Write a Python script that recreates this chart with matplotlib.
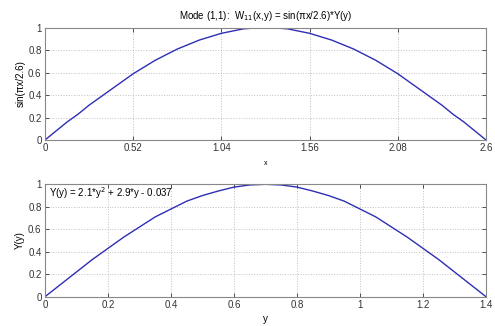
import matplotlib.pyplot as plt
from matplotlib.ticker import FuncFormatter

# values
x_vals = [0, 0.065, 0.13, 0.195, 0.26, 0.325, 0.39, 0.455, 0.52, 0.585, 0.65,
          0.715, 0.78, 0.845, 0.91, 0.975, 1.04, 1.105, 1.17, 1.235, 1.3,
          1.365, 1.43, 1.495, 1.56, 1.625, 1.69, 1.755, 1.82, 1.885, 1.95,
          2.015, 2.08, 2.145, 2.21, 2.275, 2.34, 2.405, 2.47, 2.535, 2.6]
w_vals = [0, 0.08, 0.16, 0.23, 0.31, 0.38, 0.45, 0.52, 0.59, 0.65, 0.71,
          0.76, 0.81, 0.85, 0.89, 0.92, 0.95, 0.97, 0.99, 0.997, 1.0,
          0.997, 0.99, 0.97, 0.95, 0.92, 0.89, 0.85, 0.81, 0.76, 0.71,
          0.65, 0.59, 0.52, 0.45, 0.38, 0.31, 0.23, 0.16, 0.08, 0]

y_vals = [0, 0.05, 0.1, 0.15, 0.2, 0.25, 0.3, 0.35, 0.4, 0.45, 0.5, 0.55, 0.6,
          0.65, 0.7, 0.75, 0.8, 0.85, 0.9, 0.95, 1.0, 1.05, 1.1, 1.15, 1.2,
          1.25, 1.3, 1.35, 1.4]
Y_vals = [0, 0.11, 0.22, 0.33, 0.43, 0.53, 0.62, 0.71, 0.78, 0.85, 0.90, 0.94,
          0.975, 0.994, 1.0, 0.994, 0.975, 0.94, 0.90, 0.85, 0.78, 0.71, 0.62,
          0.53, 0.43, 0.33, 0.22, 0.11, 0]

x_ticks = [0, 0.52, 1.04, 1.56, 2.08, 2.6]
y_ticks = [0, 0.2, 0.4, 0.6, 0.8, 1, 1.2, 1.4]
v_ticks = [0, 0.2, 0.4, 0.6, 0.8, 1]

plt.rcParams['font.family'] = ['Liberation Sans', 'DejaVu Sans']
plt.rcParams['font.size'] = 7

fig = plt.figure(figsize=(4.95, 3.26), dpi=100)
ax1 = fig.add_axes([0.0909, 0.5706, 0.8909, 0.3444])
ax2 = fig.add_axes([0.0909, 0.0899, 0.8909, 0.3448])

line_col = '#2e2eb4'
fmt = FuncFormatter(lambda v, p: ('%g' % round(v, 2)))

ax1.plot(x_vals, w_vals, color=line_col, lw=1.0)
ax1.set_xlim(0, 2.6)
ax1.set_ylim(0, 1)
ax1.set_xticks(x_ticks)
ax1.set_yticks(v_ticks)
ax1.set_title('Mode (1,1):  W$_{11}$(x,y) = sin(\u03c0x/2.6)*Y(y)', fontsize=7, pad=6)
ax1.set_ylabel('sin(\u03c0x/2.6)', fontsize=7, labelpad=2)
ax1.set_xlabel('x', fontsize=5, labelpad=5)

ax2.plot(y_vals, Y_vals, color=line_col, lw=1.0)
ax2.set_xlim(0, 1.4)
ax2.set_ylim(0, 1)
ax2.set_xticks(y_ticks)
ax2.set_yticks(v_ticks)
ax2.set_ylabel('Y(y)', fontsize=7, labelpad=2)
ax2.set_xlabel('y', fontsize=7, labelpad=3)
ax2.text(0.01, 0.92, 'Y(y) = 2.1*y$^2$ + 2.9*y - 0.037', transform=ax2.transAxes,
         fontsize=7, va='center', ha='left')

for ax in (ax1, ax2):
    ax.xaxis.set_major_formatter(fmt)
    ax.yaxis.set_major_formatter(fmt)
    ax.grid(True, color='#c0c0c0', linestyle=':', linewidth=0.7)
    ax.tick_params(direction='in', length=3, width=0.6, pad=2.5,
                   colors='#333333', labelsize=7, top=True, right=True)
    for s in ax.spines.values():
        s.set_color('#888888')
        s.set_linewidth(0.8)

fig.savefig('out.png', dpi=100)
